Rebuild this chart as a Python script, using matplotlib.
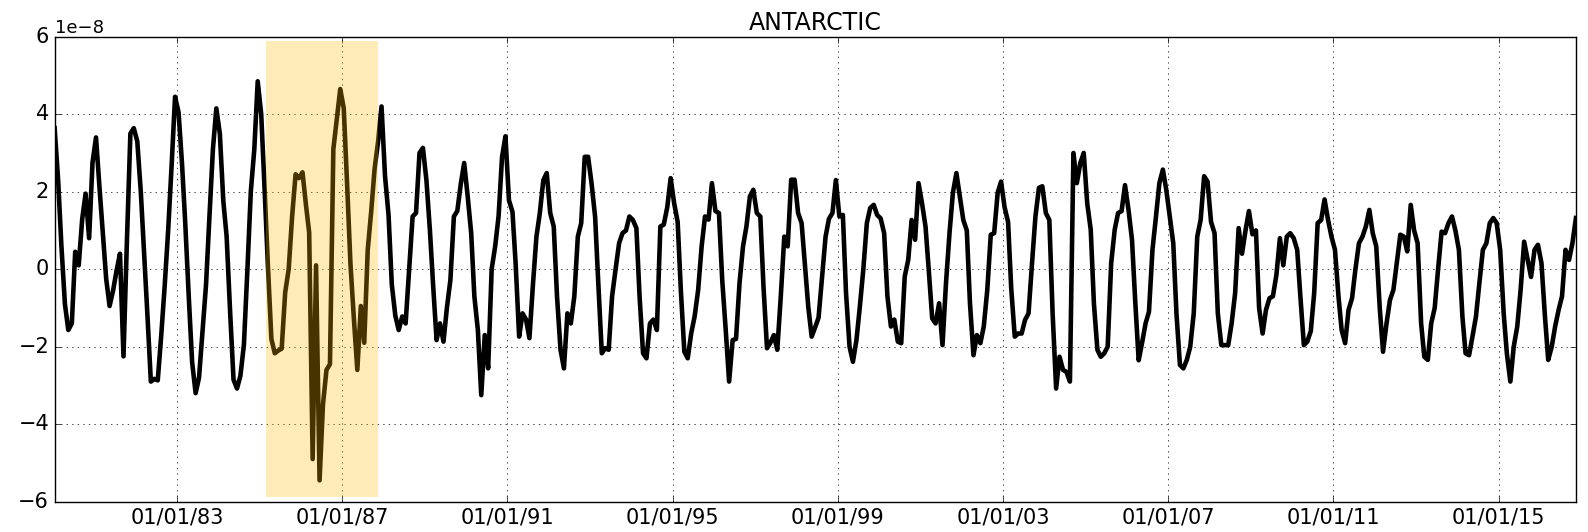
import numpy as np
import pandas as pd
import matplotlib
matplotlib.use('Agg')
from matplotlib import pyplot as plt
import matplotlib.dates as mdates

# monthly anomaly, units of 1e-8, starting Jan 1980
vals_80_89 = [3.64, 2.3, 0.6, -0.9, -1.57, -1.4, 0.45, 0.1, 1.3, 1.95, 0.8, 2.75,
              3.4, 2.1, 1.0, -0.25, -0.95, -0.55, -0.05, 0.4, -2.25, 0.7, 3.5, 3.64,
              3.3, 2.0, 0.5, -1.2, -2.9, -2.83, -2.87, -1.7, -0.4, 1.0, 2.7, 4.45,
              4.05, 2.7, 1.2, -0.7, -2.4, -3.2, -2.8, -1.6, -0.4, 1.35, 3.1, 4.15,
              3.5, 1.75, 0.85, -1.1, -2.85, -3.08, -2.75, -1.95, 0.0, 2.0, 3.1, 4.85,
              4.0, 2.0, 0.1, -1.8, -2.17, -2.1, -2.05, -0.6, 0.0, 1.35, 2.45, 2.35,
              2.5, 1.65, 0.95, -4.9, 0.1, -5.45, -3.5, -2.6, -2.45, 3.1, 3.9, 4.65,
              4.15, 2.1, 0.15, -1.3, -2.6, -0.95, -1.9, 0.5, 1.5, 2.6, 3.3, 4.2,
              2.4, 1.4, -0.4, -1.2, -1.57, -1.22, -1.4, 0.0, 1.36, 1.45, 3.0, 3.13]
vals_89_98 = [2.3, 1.0, -0.4, -1.83, -1.4, -1.87, -1.0, -0.28, 1.36, 1.5, 2.2, 2.74,
              1.88, 0.93, -0.7, -1.57, -3.25, -1.7, -2.56, 0.0, 0.59, 1.36, 2.9, 3.43,
              1.78, 1.48, 0.15, -1.74, -1.14, -1.3, -1.78, -0.4, 0.84, 1.45, 2.3, 2.48,
              1.45, 1.1, -0.7, -2.08, -2.56, -1.14, -1.4, -0.7, 0.84, 1.19, 2.9, 2.9,
              2.2, 1.35, -0.36, -2.17, -2.04, -2.08, -0.7, 0.0, 0.67, 0.93, 1.0, 1.36,
              1.27, 1.06, -0.7, -2.17, -2.3, -1.4, -1.3, -1.57, 1.1, 1.15, 1.6, 2.35,
              1.7, 1.22, -0.54, -2.13, -2.3, -1.65, -1.22, -0.54, 0.59, 1.36, 1.28, 2.22,
              1.5, 1.45, -0.28, -1.57, -2.9, -1.83, -1.8, -0.36, 0.59, 1.1, 1.88, 2.05,
              1.45, 1.36, -0.45, -2.04, -1.9, -1.7, -2.08, -0.7, 0.84, 0.59, 2.31, 2.31]
vals_98_07 = [1.45, 1.19, 0.15, -0.97, -1.74, -1.5, -1.25, -0.2, 0.84, 1.3, 1.45, 2.3,
              1.36, 1.4, -0.62, -2.0, -2.39, -1.83, -0.97, 0.0, 1.19, 1.58, 1.66, 1.4,
              1.31, 0.93, -0.7, -1.48, -1.3, -1.87, -1.91, -0.19, 0.24, 1.27, 0.76, 2.22,
              1.7, 1.1, 0.0, -1.27, -1.4, -0.88, -1.96, -0.36, 0.93, 1.97, 2.48, 1.88,
              1.27, 1.0, -0.88, -2.22, -1.7, -1.91, -1.48, -0.54, 0.89, 0.93, 1.97, 2.26,
              1.6, 1.22, -0.5, -1.74, -1.66, -1.66, -1.31, -1.14, 0.16, 1.36, 2.1, 2.14,
              1.45, 1.27, -1.14, -3.08, -2.26, -2.6, -2.65, -2.9, 3.0, 2.22, 2.74, 3.0,
              1.7, 1.02, -0.88, -2.08, -2.26, -2.17, -2.0, 0.16, 1.02, 1.45, 1.5, 2.17,
              1.53, 0.76, -0.8, -2.35, -1.9, -1.4, -1.1, 0.5, 1.36, 2.22, 2.57, 2.05]
vals_07_16 = [1.36, 0.67, -1.14, -2.47, -2.56, -2.34, -2.0, -1.14, 0.84, 1.27, 2.4,
              2.26, 1.22, 0.93, -1.14, -1.96, -1.96, -1.96, -1.4, -0.62, 1.06, 0.4, 1.0,
              1.5, 0.9, 1.0, -1.0, -1.66, -1.05, -0.75, -0.7, -0.15, 0.8, 0.1, 0.84,
              0.93, 0.8, 0.5, -0.7, -1.96, -1.87, -1.6, -0.62, 1.19, 1.27, 1.8, 1.27,
              0.84, 0.5, -0.7, -1.57, -1.91, -1.05, -0.75, 0.0, 0.67, 0.84, 1.1, 1.53,
              0.93, 0.59, -1.0, -2.13, -1.4, -0.8, -0.53, 0.16, 0.89, 0.84, 0.46, 1.66,
              1.0, 0.67, -1.4, -2.26, -2.34, -1.4, -1.0, 0.0, 0.97, 0.93, 1.19, 1.36,
              1.0, 0.5, -1.22, -2.17, -2.22, -1.74, -1.22, -0.36, 0.5, 0.67, 1.19, 1.32,
              1.19, 0.5, -1.14, -2.17, -2.9, -2.0, -1.48, -0.53, 0.71, 0.24, -0.2, 0.5,
              0.63, 0.16, -1.22, -2.34, -2.0, -1.48, -1.05, -0.7, 0.5, 0.24, 0.67, 1.32]

values = np.array(vals_80_89 + vals_89_98 + vals_98_07 + vals_07_16) * 1e-8
dates = pd.date_range('1980-01-01', periods=len(values), freq='MS') + pd.Timedelta(days=14)

span_start = '1985-03-01'
span_end = '1987-11-15'
tick_dates = pd.date_range('1983-01-01', '2015-01-01', freq='4YS')

plt.style.use('classic')
fig = plt.figure(figsize=(15.88, 5.32), dpi=100, facecolor='w')
ax = fig.add_axes([0.0344, 0.057, 0.958, 0.874])

ax.plot(dates, values, color='k', lw=3.3)
# highlighted period drawn over the line
ax.axvspan(pd.Timestamp(span_start), pd.Timestamp(span_end), ymin=0.01, ymax=0.99,
           color=(1.0, 0.73, 0.0), alpha=0.28, lw=0, zorder=5)

ax.set_xlim(dates[0], dates[-1])
ax.set_ylim(-6e-8, 6e-8)
ax.set_yticks(np.arange(-6, 7, 2) * 1e-8)
ax.set_xticks(tick_dates)
ax.xaxis.set_major_formatter(mdates.DateFormatter('%m/%d/%y'))
ax.tick_params(labelsize=15)
ax.yaxis.get_offset_text().set_fontsize(13)
ax.grid(True)
ax.set_title('ANTARCTIC', fontsize=17)

fig.savefig('out.png', dpi=100, facecolor='w')
